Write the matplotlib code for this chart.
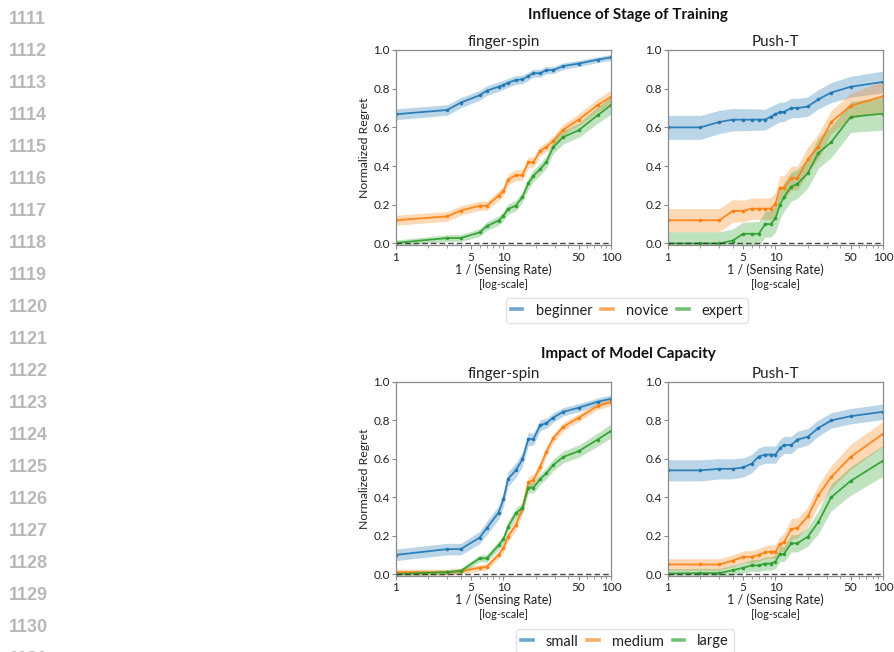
import matplotlib
matplotlib.use("Agg")
import matplotlib.pyplot as plt
from matplotlib.lines import Line2D
from matplotlib.ticker import FixedLocator, NullFormatter, LogLocator

plt.rcParams['font.family'] = ['Lato', 'DejaVu Sans']

# ---------------- data ----------------
x_fs = [1, 3, 4, 6, 7, 9, 10, 11, 13, 15, 17, 19, 22, 25, 29, 36, 50, 75, 100]
x_pt = [1, 2, 3, 4, 5, 6, 7, 8, 9, 10, 11, 12, 14, 16, 20, 25, 33, 50, 100]

# Influence of stage of training
stage_names = ["beginner", "novice", "expert"]
fs_beginner = [0.668, 0.69, 0.728, 0.766, 0.79, 0.81, 0.82, 0.83, 0.845, 0.848, 0.865, 0.88, 0.88, 0.896, 0.896, 0.917, 0.93, 0.95, 0.962]
fs_beginner_sd = [0.028, 0.027, 0.026, 0.025, 0.025, 0.024, 0.024, 0.023, 0.023, 0.022, 0.021, 0.02, 0.02, 0.019, 0.018, 0.017, 0.016, 0.015, 0.015]
fs_novice = [0.12, 0.14, 0.17, 0.195, 0.195, 0.247, 0.27, 0.33, 0.353, 0.353, 0.42, 0.42, 0.48, 0.498, 0.53, 0.588, 0.64, 0.715, 0.758]
fs_novice_sd = [0.026, 0.025, 0.024, 0.024, 0.024, 0.025, 0.026, 0.028, 0.028, 0.028, 0.026, 0.026, 0.025, 0.025, 0.026, 0.028, 0.03, 0.033, 0.036]
fs_expert = [0.003, 0.028, 0.028, 0.057, 0.09, 0.118, 0.143, 0.178, 0.195, 0.24, 0.31, 0.35, 0.385, 0.42, 0.498, 0.55, 0.585, 0.663, 0.715]
fs_expert_sd = [0.015, 0.017, 0.018, 0.02, 0.022, 0.024, 0.025, 0.026, 0.027, 0.028, 0.03, 0.03, 0.031, 0.032, 0.034, 0.035, 0.037, 0.042, 0.046]

pt_beginner = [0.60, 0.60, 0.628, 0.64, 0.64, 0.64, 0.64, 0.64, 0.655, 0.668, 0.68, 0.68, 0.70, 0.70, 0.708, 0.745, 0.78, 0.81, 0.835]
pt_beginner_sd = [0.062, 0.062, 0.06, 0.058, 0.057, 0.056, 0.055, 0.054, 0.053, 0.052, 0.051, 0.05, 0.05, 0.05, 0.05, 0.05, 0.052, 0.054, 0.056]
pt_novice = [0.12, 0.12, 0.12, 0.168, 0.168, 0.18, 0.18, 0.18, 0.18, 0.205, 0.288, 0.288, 0.337, 0.337, 0.435, 0.50, 0.628, 0.711, 0.761]
pt_novice_sd = [0.06, 0.06, 0.06, 0.058, 0.056, 0.055, 0.055, 0.055, 0.056, 0.058, 0.062, 0.062, 0.062, 0.062, 0.065, 0.065, 0.06, 0.065, 0.08]
pt_expert = [0.0, 0.0, 0.0, 0.015, 0.05, 0.05, 0.05, 0.10, 0.10, 0.13, 0.2, 0.24, 0.294, 0.308, 0.363, 0.467, 0.524, 0.654, 0.671]
pt_expert_sd = [0.06, 0.06, 0.06, 0.06, 0.06, 0.062, 0.064, 0.066, 0.068, 0.07, 0.072, 0.074, 0.075, 0.075, 0.076, 0.078, 0.08, 0.08, 0.085]

# Impact of model capacity
size_names = ["small", "medium", "large"]
fs_small = [0.10, 0.13, 0.13, 0.19, 0.24, 0.32, 0.39, 0.495, 0.54, 0.597, 0.703, 0.703, 0.776, 0.785, 0.815, 0.845, 0.866, 0.897, 0.913]
fs_small_sd = [0.03, 0.03, 0.03, 0.032, 0.034, 0.036, 0.037, 0.038, 0.038, 0.036, 0.034, 0.032, 0.028, 0.026, 0.024, 0.022, 0.021, 0.02, 0.02]
fs_medium = [0.01, 0.01, 0.015, 0.033, 0.038, 0.10, 0.137, 0.194, 0.255, 0.34, 0.477, 0.49, 0.56, 0.637, 0.707, 0.767, 0.814, 0.875, 0.895]
fs_medium_sd = [0.015, 0.015, 0.015, 0.016, 0.017, 0.02, 0.022, 0.025, 0.028, 0.03, 0.03, 0.03, 0.028, 0.026, 0.024, 0.022, 0.02, 0.018, 0.018]
fs_large = [0.0, 0.01, 0.016, 0.082, 0.082, 0.15, 0.182, 0.246, 0.316, 0.345, 0.45, 0.45, 0.495, 0.524, 0.568, 0.61, 0.64, 0.70, 0.745]
fs_large_sd = [0.012, 0.013, 0.014, 0.018, 0.02, 0.022, 0.024, 0.026, 0.028, 0.028, 0.028, 0.028, 0.028, 0.029, 0.03, 0.031, 0.032, 0.034, 0.036]

pt_small = [0.54, 0.54, 0.548, 0.548, 0.555, 0.575, 0.612, 0.622, 0.622, 0.622, 0.655, 0.672, 0.672, 0.70, 0.715, 0.76, 0.80, 0.822, 0.845]
pt_small_sd = [0.055, 0.055, 0.053, 0.052, 0.05, 0.048, 0.046, 0.045, 0.045, 0.045, 0.045, 0.045, 0.045, 0.044, 0.043, 0.042, 0.04, 0.04, 0.04]
pt_medium = [0.05, 0.05, 0.05, 0.07, 0.09, 0.09, 0.10, 0.113, 0.117, 0.117, 0.155, 0.165, 0.235, 0.24, 0.30, 0.41, 0.505, 0.61, 0.73]
pt_medium_sd = [0.03, 0.03, 0.03, 0.03, 0.031, 0.032, 0.033, 0.034, 0.035, 0.036, 0.04, 0.045, 0.055, 0.05, 0.05, 0.055, 0.06, 0.065, 0.065]
pt_large = [0.003, 0.005, 0.005, 0.02, 0.033, 0.045, 0.045, 0.055, 0.055, 0.065, 0.105, 0.105, 0.16, 0.16, 0.195, 0.27, 0.40, 0.485, 0.59]
pt_large_sd = [0.025, 0.025, 0.025, 0.026, 0.028, 0.03, 0.032, 0.034, 0.035, 0.036, 0.04, 0.04, 0.045, 0.045, 0.05, 0.06, 0.07, 0.075, 0.08]

env_titles = ["finger-spin", "Push-T"]
x_ticks = [1, 5, 10, 50, 100]
x_ticklabels = ["1", "5", "10", "50", "100"]
y_ticks = [0.0, 0.2, 0.4, 0.6, 0.8, 1.0]
line_numbers = list(range(1111, 1132))

colors = ["#1f77b4", "#ff7f0e", "#2ca02c"]
SPINE = "#8a8a8a"
TXT = "#222222"

W, H = 895, 652
fig = plt.figure(figsize=(W / 100, H / 100), dpi=100)


def px_axes(left, right, top, bottom):
    return fig.add_axes([left / W, 1 - bottom / H, (right - left) / W, (bottom - top) / H])


def draw_panel(ax, x, means, sds, title, ylabel):
    for m, s, c in zip(means, sds, colors):
        lo = [a - b for a, b in zip(m, s)]
        hi = [a + b for a, b in zip(m, s)]
        ax.fill_between(x, lo, hi, color=c, alpha=0.3, lw=0)
        ax.plot(x, m, color=c, lw=1.3, marker="o", ms=1.6, alpha=0.9)
    ax.axhline(0.0, color="#333333", lw=1.0, ls=(0, (4, 2.2)), alpha=0.9)
    ax.set_xscale("log")
    ax.set_xlim(1, 100)
    ax.set_ylim(-0.01, 1.0)
    ax.xaxis.set_major_locator(FixedLocator(x_ticks))
    ax.set_xticklabels(x_ticklabels)
    ax.xaxis.set_minor_locator(LogLocator(base=10, subs=range(2, 10)))
    ax.xaxis.set_minor_formatter(NullFormatter())
    ax.set_yticks(y_ticks)
    ax.set_yticklabels([f"{v:.1f}" for v in y_ticks])
    ax.tick_params(axis="both", which="major", labelsize=8.5, colors=SPINE, labelcolor=TXT,
                   length=3, width=0.8, pad=1.5)
    ax.tick_params(axis="x", which="minor", length=2, width=0.6, colors=SPINE)
    for sp in ax.spines.values():
        sp.set_color(SPINE)
        sp.set_linewidth(0.9)
    ax.set_title(title, fontsize=11, color=TXT, pad=3)
    ax.set_xlabel("1 / (Sensing Rate)", fontsize=9, color=TXT, labelpad=0.5)
    if ylabel:
        ax.set_ylabel("Normalized Regret", fontsize=8.8, color=TXT, labelpad=2)
    # secondary caption under the axis label
    ax.text(0.5, -0.2, "[log-scale]", transform=ax.transAxes, ha="center", va="center",
            fontsize=7.8, color=TXT)


def legend(names, cx, cy):
    handles = [Line2D([], [], color=c, lw=2.6, alpha=0.65) for c in colors]
    fig.legend(handles, names, loc="center", bbox_to_anchor=(cx / W, 1 - cy / H),
               ncol=3, fontsize=10.5, frameon=True, handlelength=0.8, handletextpad=0.9,
               columnspacing=0.6, borderpad=0.35, fancybox=True, edgecolor="#dddddd",
               labelcolor=TXT)


# top block: stage of training
a1 = px_axes(396, 611, 50, 245.4)
a2 = px_axes(668, 883, 50, 245.4)
draw_panel(a1, x_fs, [fs_beginner, fs_novice, fs_expert],
           [fs_beginner_sd, fs_novice_sd, fs_expert_sd], env_titles[0], True)
draw_panel(a2, x_pt, [pt_beginner, pt_novice, pt_expert],
           [pt_beginner_sd, pt_novice_sd, pt_expert_sd], env_titles[1], False)
fig.text(628 / W, 1 - 15 / H, "Influence of Stage of Training", ha="center", va="center",
         fontsize=11, fontweight="bold", color="#111111")
legend(stage_names, 627, 310.5)

# bottom block: model capacity
b1 = px_axes(396, 611, 382, 576)
b2 = px_axes(668, 883, 382, 576)
draw_panel(b1, x_fs, [fs_small, fs_medium, fs_large],
           [fs_small_sd, fs_medium_sd, fs_large_sd], env_titles[0], True)
draw_panel(b2, x_pt, [pt_small, pt_medium, pt_large],
           [pt_small_sd, pt_medium_sd, pt_large_sd], env_titles[1], False)
fig.text(628 / W, 1 - 354 / H, "Impact of Model Capacity", ha="center", va="center",
         fontsize=11, fontweight="bold", color="#111111")
legend(size_names, 625, 641.5)

# margin line numbers
for i, n in enumerate(line_numbers):
    fig.text(9 / W, 1 - (19 + 32.05 * i) / H, str(n), ha="left", va="center",
             fontsize=13, fontweight="bold", color="#b8b8b8", family="Liberation Sans")

fig.savefig("out.png", dpi=100)
